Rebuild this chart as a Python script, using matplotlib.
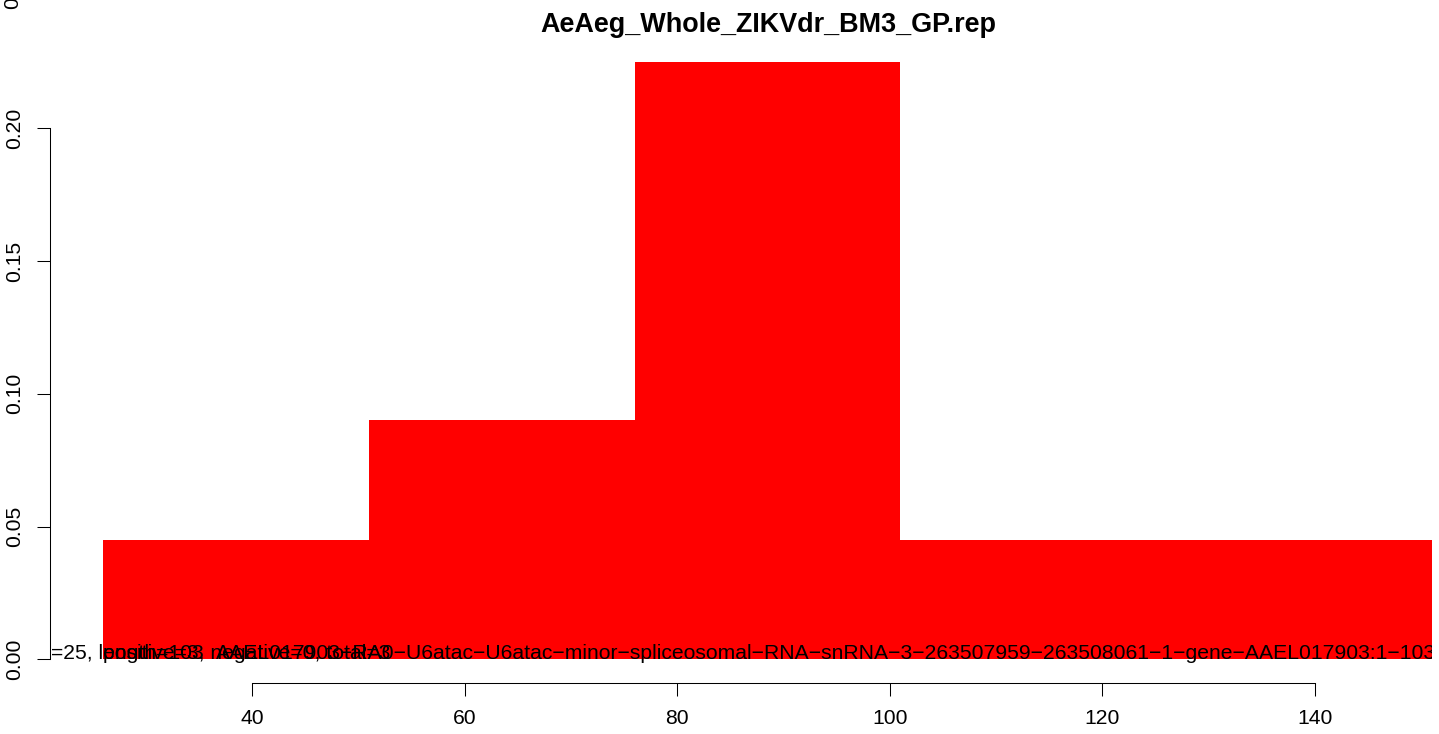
import matplotlib
matplotlib.use("Agg")
import matplotlib.pyplot as plt

# ---- data ----
bin_edges = [26, 51, 76, 101, 126, 151]
bin_values = [0.045, 0.09, 0.225, 0.045, 0.045]
x_ticks = [40, 60, 80, 100, 120, 140]
y_ticks = [0.00, 0.05, 0.10, 0.15, 0.20]
y_tick_labels = ["0.00", "0.05", "0.10", "0.15", "0.20"]
title = "AeAeg_Whole_ZIKVdr_BM3_GP.rep"
label_1 = "=25, length=103"
label_2 = "positive=3, negative=0, total=3"
label_3 = "AAEL017903-RA0-U6atac-U6atac-minor-spliceosomal-RNA-snRNA-3-263507959-263508061-1-gene-AAEL017903:1-103,"
label_x = [21.1, 26, 36.6]

plt.rcParams['font.family'] = ['Liberation Sans', 'DejaVu Sans']

W, H = 1439, 734
FS = 15.25
fig = plt.figure(figsize=(W / 100, H / 100), dpi=100)
ax = fig.add_axes([50 / W, (H - 683) / H, 1382 / W, (683 - 38) / H])

lefts = bin_edges[:-1]
widths = [b - a for a, b in zip(bin_edges[:-1], bin_edges[1:])]
ax.bar(lefts, bin_values, width=widths, align='edge', color='#FF0000', linewidth=0)

ax.set_xlim(21, 151)
ax.set_ylim(-0.0089, 0.234)

for s in ['top', 'right']:
    ax.spines[s].set_visible(False)
ax.spines['left'].set_bounds(0, 0.2)
ax.spines['bottom'].set_bounds(40, 140)
ax.spines['left'].set_linewidth(0.75)
ax.spines['bottom'].set_linewidth(0.75)

ax.set_xticks(x_ticks)
ax.set_xticklabels([str(v) for v in x_ticks], fontsize=FS)
ax.set_yticks(y_ticks)
ax.set_yticklabels(y_tick_labels, fontsize=FS, rotation=90, va='center')
ax.tick_params(axis='both', direction='out', length=9.4, width=0.75, color='black')
ax.tick_params(axis='x', pad=9)
ax.tick_params(axis='y', pad=9)

def disp(s):
    return s.replace('-', '\u2212')

for xs, s in zip(label_x, [label_1, label_2, label_3]):
    ax.text(xs, 0, disp(s), ha='left', va='baseline', fontsize=FS, clip_on=True)

fig.text(768.5 / W, (H - 32) / H, title, ha='center', va='baseline',
         fontsize=19.45, fontweight='bold')
fig.text(13 / W, (H + 12) / H, "0.25", rotation=90, ha='center', va='center', fontsize=FS)

fig.savefig("out.png", dpi=100)
